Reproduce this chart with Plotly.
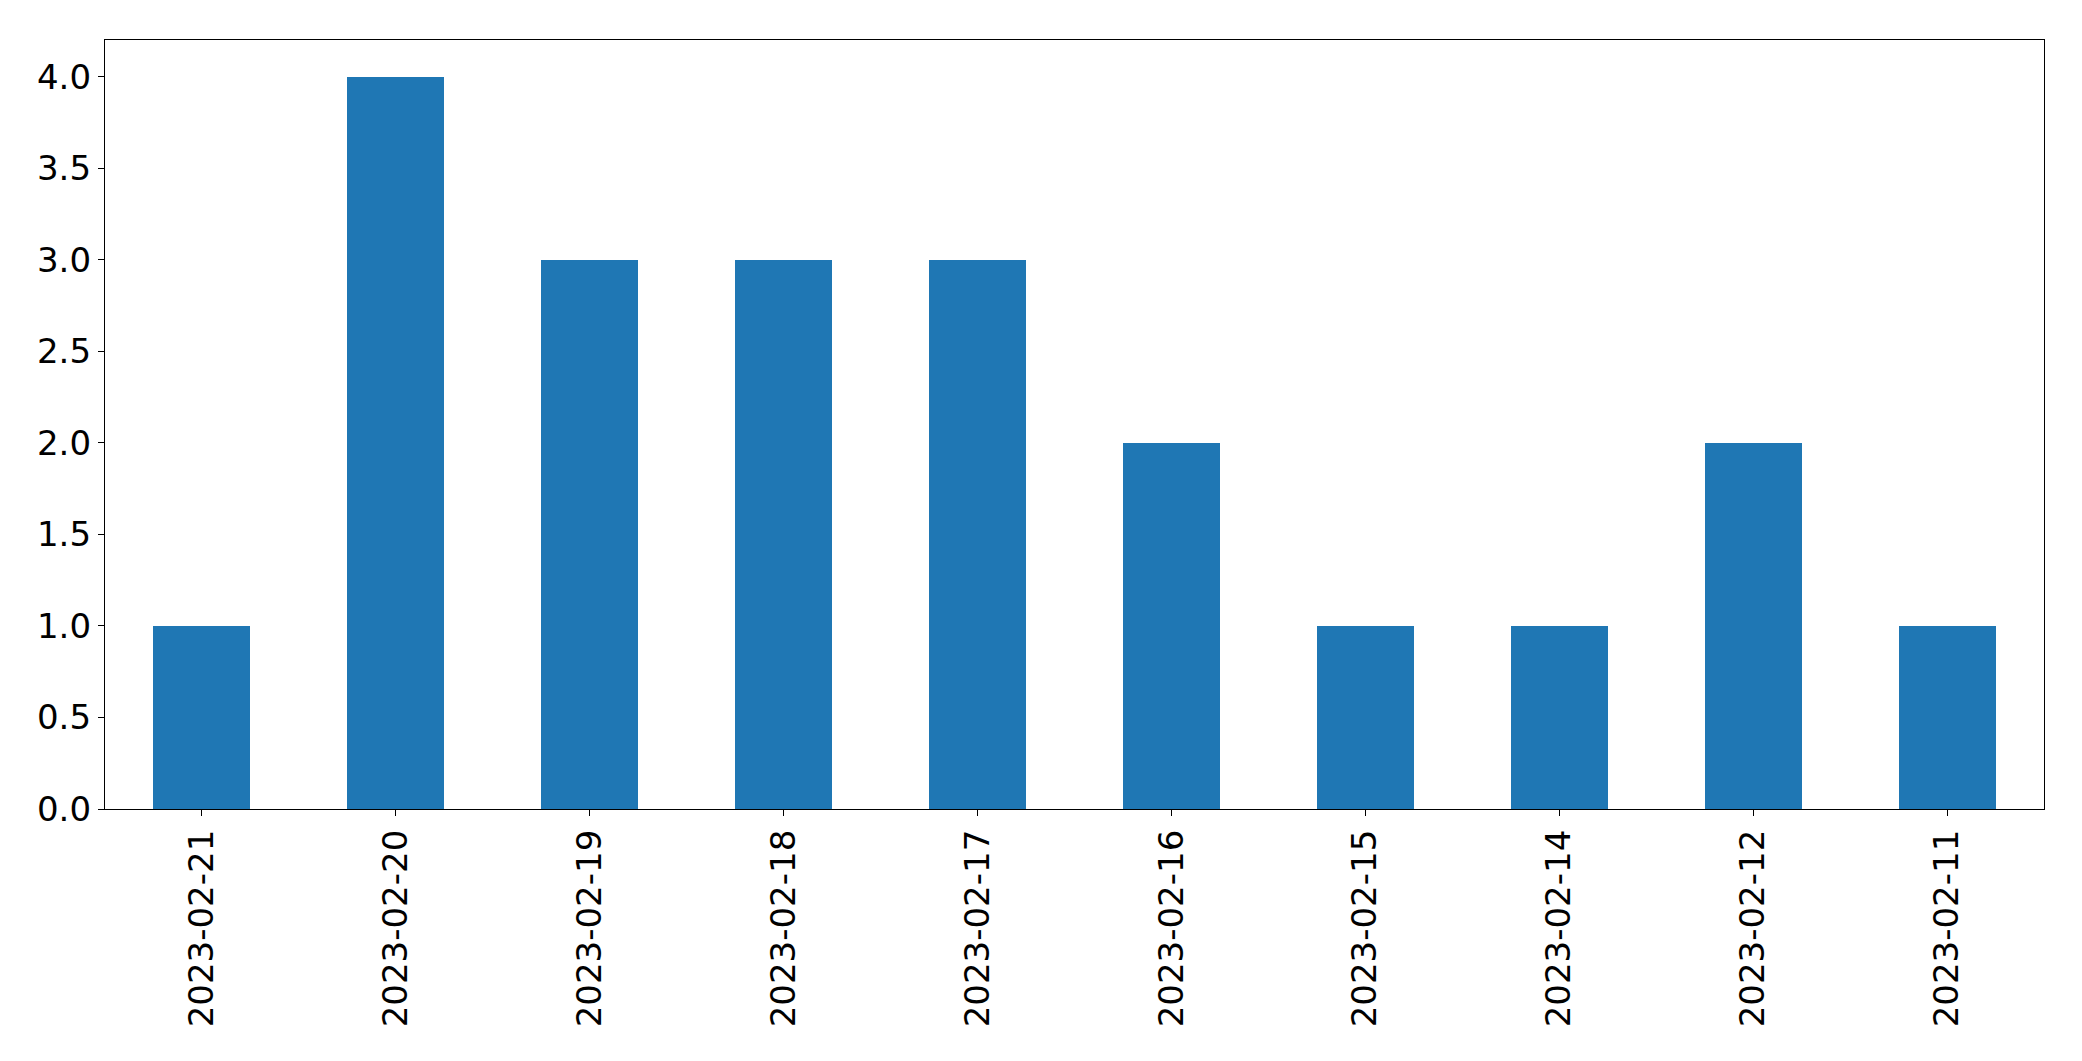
import plotly.graph_objects as go

dates = ["2023-02-21", "2023-02-20", "2023-02-19", "2023-02-18", "2023-02-17",
         "2023-02-16", "2023-02-15", "2023-02-14", "2023-02-12", "2023-02-11"]
counts = [1, 4, 3, 3, 3, 2, 1, 1, 2, 1]
y_ticks = [0.0, 0.5, 1.0, 1.5, 2.0, 2.5, 3.0, 3.5, 4.0]

fig = go.Figure(go.Bar(
    x=list(range(len(dates))), y=counts, width=0.5,
    marker=dict(color="#1f77b4", line=dict(width=0)),
))

font = dict(family="DejaVu Sans", size=34, color="black")
fig.update_layout(
    width=2066, height=1045,
    margin=dict(l=97, r=30, t=32, b=244, autoexpand=False),
    plot_bgcolor="white", paper_bgcolor="white",
    showlegend=False, bargap=0,
)
fig.update_xaxes(
    range=[-0.5, len(dates) - 0.5], automargin=False,
    tickmode="array", tickvals=list(range(len(dates))), ticktext=dates,
    tickangle=-90, tickfont=font,
    showline=True, linecolor="black", linewidth=1.3, mirror=True,
    ticks="outside", ticklen=6, tickwidth=1.3, tickcolor="black",
    showgrid=False, zeroline=False,
)
fig.update_yaxes(
    range=[0, 4.2], automargin=False,
    tickmode="array", tickvals=y_ticks, ticktext=[f"{v:.1f}" for v in y_ticks],
    tickfont=font,
    showline=True, linecolor="black", linewidth=1.3, mirror=True,
    ticks="outside", ticklen=6, tickwidth=1.3, tickcolor="black",
    showgrid=False, zeroline=False,
)
fig.write_html("out.html")
